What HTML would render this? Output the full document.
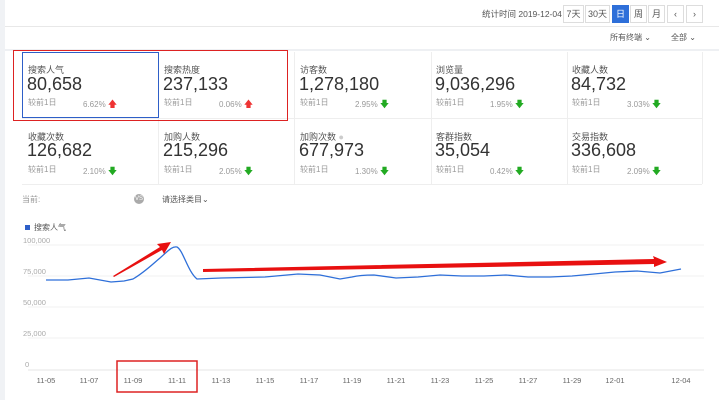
<!DOCTYPE html>
<html><head><meta charset="utf-8"><style>
body{margin:0;width:719px;height:400px;overflow:hidden;background:#fff;font-family:"Liberation Sans","Noto Sans CJK SC",sans-serif;position:relative;color:#333}
.a{position:absolute;white-space:nowrap}
.btn{position:absolute;top:5px;height:16px;border:1px solid #ddd;font-size:9px;line-height:16px;text-align:center;color:#555;background:#fff}
.t{font-size:9px;color:#555}
.v{font-size:18px;color:#333}
.s{font-size:8px;color:#999}
.up{color:#e33;font-size:9px}
.dn{color:#2a2;font-size:9px}
</style></head><body>
<div class="a" style="left:0;top:0;width:5px;height:400px;background:#f0f2f5"></div>
<div class="a" style="left:5px;top:26px;width:714px;height:1px;background:#e8e8e8"></div>
<div class="a" style="left:5px;top:49px;width:714px;height:2px;background:#eef0f3"></div>
<div class="a t" style="left:482px;top:8px;font-size:8.5px">统计时间 2019-12-04</div>
<div class="btn" style="left:563px;width:19px">7天</div>
<div class="btn" style="left:585px;width:23px">30天</div>
<div class="btn" style="left:612px;width:15px;background:#2e6fd9;color:#fff;border-color:#2e6fd9">日</div>
<div class="btn" style="left:630px;width:15px">周</div>
<div class="btn" style="left:648px;width:15px">月</div>
<div class="btn" style="left:667px;width:15px">‹</div>
<div class="btn" style="left:686px;width:15px">›</div>
<div class="a t" style="left:610px;top:32px;font-size:8px">所有终端 ⌄</div>
<div class="a t" style="left:671px;top:32px;font-size:8px">全部 ⌄</div>

<div class="a" style="left:22px;top:118px;width:680px;height:1px;background:#eee"></div>
<div class="a" style="left:22px;top:184px;width:680px;height:1px;background:#eee"></div>
<div class="a" style="left:158px;top:52px;width:1px;height:132px;background:#eee"></div>
<div class="a" style="left:294px;top:52px;width:1px;height:132px;background:#eee"></div>
<div class="a" style="left:431px;top:52px;width:1px;height:132px;background:#eee"></div>
<div class="a" style="left:567px;top:52px;width:1px;height:132px;background:#eee"></div>
<div class="a" style="left:702px;top:52px;width:1px;height:132px;background:#eee"></div>

<div class="a t" style="left:28px;top:63px">搜索人气</div><div class="a v" style="left:27px;top:74px">80,658</div><div class="a s" style="left:28px;top:97px">较前1日</div><div class="a s" style="left:83px;top:97px">6.62% <span class="up">🡅</span></div>
<div class="a t" style="left:164px;top:63px">搜索热度</div><div class="a v" style="left:163px;top:74px">237,133</div><div class="a s" style="left:164px;top:97px">较前1日</div><div class="a s" style="left:219px;top:97px">0.06% <span class="up">🡅</span></div>
<div class="a t" style="left:300px;top:63px">访客数</div><div class="a v" style="left:299px;top:74px">1,278,180</div><div class="a s" style="left:300px;top:97px">较前1日</div><div class="a s" style="left:355px;top:97px">2.95% <span class="dn">🡇</span></div>
<div class="a t" style="left:436px;top:63px">浏览量</div><div class="a v" style="left:435px;top:74px">9,036,296</div><div class="a s" style="left:436px;top:97px">较前1日</div><div class="a s" style="left:490px;top:97px">1.95% <span class="dn">🡇</span></div>
<div class="a t" style="left:572px;top:63px">收藏人数</div><div class="a v" style="left:571px;top:74px">84,732</div><div class="a s" style="left:572px;top:97px">较前1日</div><div class="a s" style="left:627px;top:97px">3.03% <span class="dn">🡇</span></div>

<div class="a t" style="left:28px;top:130px">收藏次数</div><div class="a v" style="left:27px;top:140px">126,682</div><div class="a s" style="left:28px;top:164px">较前1日</div><div class="a s" style="left:83px;top:164px">2.10% <span class="dn">🡇</span></div>
<div class="a t" style="left:164px;top:130px">加购人数</div><div class="a v" style="left:163px;top:140px">215,296</div><div class="a s" style="left:164px;top:164px">较前1日</div><div class="a s" style="left:219px;top:164px">2.05% <span class="dn">🡇</span></div>
<div class="a t" style="left:300px;top:130px">加购次数 <span style="color:#ccc">●</span></div><div class="a v" style="left:299px;top:140px">677,973</div><div class="a s" style="left:300px;top:164px">较前1日</div><div class="a s" style="left:355px;top:164px">1.30% <span class="dn">🡇</span></div>
<div class="a t" style="left:436px;top:130px">客群指数</div><div class="a v" style="left:435px;top:140px">35,054</div><div class="a s" style="left:436px;top:164px">较前1日</div><div class="a s" style="left:490px;top:164px">0.42% <span class="dn">🡇</span></div>
<div class="a t" style="left:572px;top:130px">交易指数</div><div class="a v" style="left:571px;top:140px">336,608</div><div class="a s" style="left:572px;top:164px">较前1日</div><div class="a s" style="left:627px;top:164px">2.09% <span class="dn">🡇</span></div>

<div class="a" style="left:13px;top:50px;width:275px;height:71px;border:1.5px solid #d22;box-sizing:border-box"></div>
<div class="a" style="left:22px;top:52px;width:137px;height:66px;border:1px solid #2e5fc8;box-sizing:border-box"></div>

<div class="a s" style="left:22px;top:194px">当前:</div>
<div class="a" style="left:134px;top:194px;width:10px;height:10px;border-radius:50%;background:#aaa;color:#fff;font-size:6px;text-align:center;line-height:10px">VS</div>
<div class="a t" style="left:162px;top:194px;font-size:8px">请选择类目⌄</div>
<div class="a" style="left:25px;top:225px;width:5px;height:5px;background:#2e5fc8"></div>
<div class="a s" style="left:34px;top:222px;color:#555">搜索人气</div>

<svg class="a" style="left:0;top:0" width="719" height="400">
<g stroke="#f0f0f0" stroke-width="1">
<line x1="28" y1="245" x2="704" y2="245"/><line x1="28" y1="276" x2="704" y2="276"/><line x1="28" y1="307" x2="704" y2="307"/><line x1="28" y1="338" x2="704" y2="338"/><line x1="28" y1="370" x2="704" y2="370" stroke="#e4e4e4"/>
</g>
<g font-size="7.5" fill="#aaa" font-family="Liberation Sans">
<text x="23" y="243">100,000</text><text x="23" y="274">75,000</text><text x="23" y="305">50,000</text><text x="23" y="336">25,000</text><text x="25" y="367">0</text>
</g>
<g font-size="7.5" fill="#666" font-family="Liberation Sans" text-anchor="middle">
<text x="46" y="383">11-05</text><text x="89" y="383">11-07</text><text x="133" y="383">11-09</text><text x="177" y="383">11-11</text><text x="221" y="383">11-13</text><text x="265" y="383">11-15</text><text x="309" y="383">11-17</text><text x="352" y="383">11-19</text><text x="396" y="383">11-21</text><text x="440" y="383">11-23</text><text x="484" y="383">11-25</text><text x="528" y="383">11-27</text><text x="572" y="383">11-29</text><text x="615" y="383">12-01</text><text x="681" y="383">12-04</text>
</g>
<path fill="none" stroke="#2e6fd9" stroke-width="1.3" d="M46,280 L68,280 L89,278 L111,282 L124,281 L133,279 C145,272 155,262 160,258 C168,251 172,246 177,247 C183,250 188,272 197,279 L221,278 L265,277 L298,274 L320,275 L340,279 L352,277 C360,275 370,275 374,275 L396,278 L418,277 L440,275 L462,276 L484,276 L506,275 L528,277 L550,277 L572,276 L594,274 L615,272 L637,271 L660,273 L681,269"/>
<polygon fill="#e81010" points="113,276 160,247 157,244 171,242 164,254 162,250 114,277"/>
<polygon fill="#e81010" points="203,269 654,259 653,256 667,262 654,267 654,264 203,272"/>
<rect x="117" y="361" width="80" height="31" fill="none" stroke="#d22" stroke-width="1.5"/>
</svg>
</body></html>
